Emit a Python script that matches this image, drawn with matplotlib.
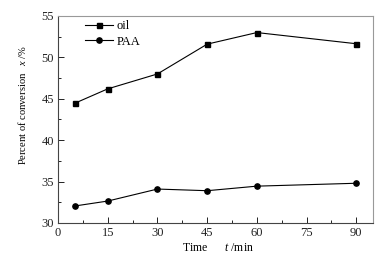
import matplotlib
matplotlib.use("Agg")
import matplotlib.pyplot as plt
from matplotlib.ticker import MultipleLocator

plt.rcParams['font.family'] = ['Liberation Serif', 'DejaVu Serif']
plt.rcParams['mathtext.fontset'] = 'custom'
plt.rcParams['mathtext.it'] = 'Liberation Serif:italic'
plt.rcParams['mathtext.rm'] = 'Liberation Serif'

# data
time_min = [5, 15, 30, 45, 60, 90]
oil = [44.45, 46.2, 48.0, 51.6, 53.0, 51.65]
paa = [32.05, 32.65, 34.1, 33.9, 34.45, 34.8]
xticks = [0, 15, 30, 45, 60, 75, 90]
yticks = [30, 35, 40, 45, 50, 55]

fig = plt.figure(figsize=(3.88, 2.61), dpi=100)
ax = fig.add_axes([0.1495, 0.1456, 0.8115, 0.7931])

ax.plot(time_min, oil, color='black', lw=0.8, marker='s', ms=3.6, label='oil')
ax.plot(time_min, paa, color='black', lw=0.8, marker='o', ms=3.8, label='PAA')

ax.set_xlim(0, 95)
ax.set_ylim(30, 55)
ax.set_xticks(xticks)
ax.set_yticks(yticks)
ax.xaxis.set_minor_locator(MultipleLocator(7.5))
ax.yaxis.set_minor_locator(MultipleLocator(2.5))
ax.tick_params(which='both', direction='in', top=False, right=False,
               labelsize=9, colors='#222222', pad=3)
ax.tick_params(which='major', length=4, width=0.7)
ax.tick_params(which='minor', length=2.5, width=0.7)

for side in ['left', 'bottom']:
    ax.spines[side].set_color('#444444')
    ax.spines[side].set_linewidth(0.8)
for side in ['top', 'right']:
    ax.spines[side].set_color('#999999')
    ax.spines[side].set_linewidth(0.8)

ax.set_xlabel(r'Time      $t$ /min', fontsize=8.5)
ax.xaxis.set_label_coords(0.508, -0.09)
ax.set_ylabel(r'Percent of conversion   $x$ /%', fontsize=7.6)
ax.yaxis.set_label_coords(-0.095, 0.57)

ax.legend(loc='upper left', frameon=False, fontsize=9, handlelength=2.2,
          handletextpad=0.3, labelspacing=0.3, borderaxespad=0.0,
          bbox_to_anchor=(0.07, 1.005))

fig.savefig('out.png', dpi=100)
